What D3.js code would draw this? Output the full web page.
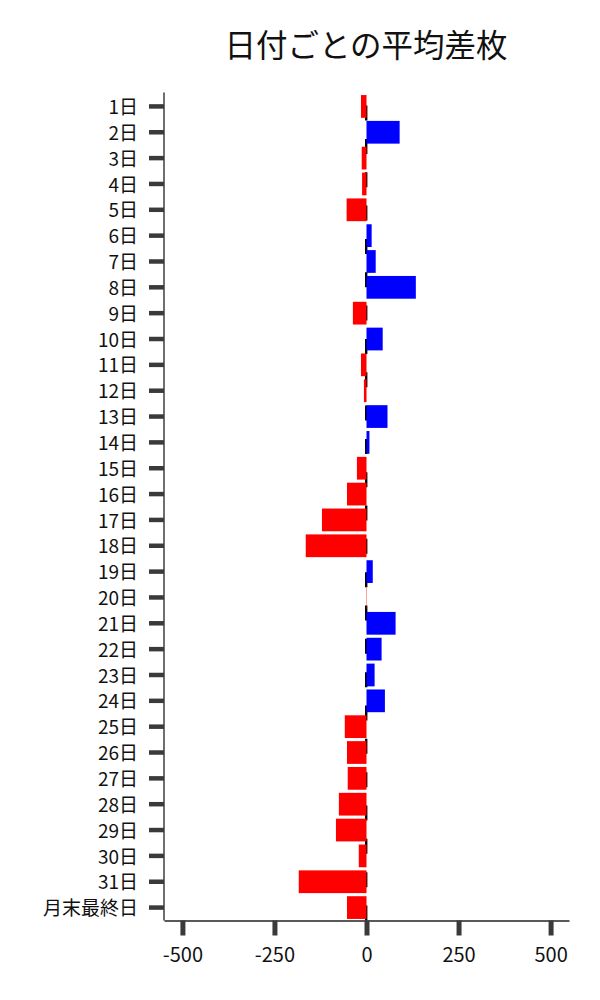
<!DOCTYPE html>
<html>
<head>
<meta charset="utf-8">
<script src="https://cdn.jsdelivr.net/npm/d3@7"></script>
<style>
  html, body { margin: 0; padding: 0; background: #fff; }
  svg { display: block; font-family: "Noto Sans CJK JP", "Noto Sans", sans-serif; }
</style>
</head>
<body>
<svg id="chart" width="600" height="1000"></svg>
<script>
const title = "日付ごとの平均差枚";
const categories = ["1日","2日","3日","4日","5日","6日","7日","8日","9日","10日",
  "11日","12日","13日","14日","15日","16日","17日","18日","19日","20日",
  "21日","22日","23日","24日","25日","26日","27日","28日","29日","30日",
  "31日","月末最終日"];
const values = [-15, 90, -13, -12, -54, 14, 25, 134, -37, 44,
  -15, -7, 57, 8, -26, -53, -121, -165, 17, -1,
  79, 41, 22, 50, -59, -53, -51, -75, -83, -21,
  -184, -53];
const xTicks = [-500, -250, 0, 250, 500];
const xDomain = [-550, 550];

(function () {
const svg = d3.select("#chart");
const mLeft = 164, mRight = 569, mTop = 93.5, mBottom = 920.5;

const x = d3.scaleLinear().domain(xDomain).range([mLeft, mRight]);
const y = d3.scaleBand().domain(categories).range([mTop, mBottom]).paddingInner(0.12).paddingOuter(0.06);

// zero dashed line (drawn from bottom to top)
svg.append("line")
  .attr("x1", x(0) - 0.3).attr("x2", x(0) - 0.3)
  .attr("y1", mBottom).attr("y2", mTop - 1)
  .attr("stroke", "#000").attr("stroke-width", 2.4)
  .attr("stroke-dasharray", "15,18.33");

// bars
svg.append("g").selectAll("rect").data(values).join("rect")
  .attr("x", d => x(Math.min(0, d)))
  .attr("width", d => Math.abs(x(d) - x(0)))
  .attr("y", (d, i) => y(categories[i]))
  .attr("height", y.bandwidth())
  .attr("fill", d => d < 0 ? "#ff0000" : "#0000ff");

// y axis
const yAxis = d3.axisLeft(y).tickSize(15).tickPadding(11).tickSizeOuter(0);
const gy = svg.append("g").attr("transform", `translate(${mLeft},0)`).call(yAxis);
gy.select(".domain").attr("stroke", "#222").attr("stroke-width", 1.3)
  .attr("d", `M0,${mTop - 1}V${mBottom}`);
gy.selectAll(".tick line").attr("stroke", "#3a3a3a").attr("stroke-width", 4.5);
gy.selectAll(".tick text").attr("font-size", 19).attr("fill", "#111")
  .attr("dy", "0.4em").style("font-family", '"Noto Sans CJK JP", sans-serif');

// x axis
const xAxis = d3.axisBottom(x).tickValues(xTicks).tickFormat(d => String(d)).tickSize(15).tickPadding(12).tickSizeOuter(0);
const gx = svg.append("g").attr("transform", `translate(0,${mBottom})`).call(xAxis);
gx.select(".domain").attr("stroke", "#222").attr("stroke-width", 1.3);
gx.selectAll(".tick line").attr("stroke", "#3a3a3a").attr("stroke-width", 5);
gx.selectAll(".tick text").attr("font-size", 20).attr("fill", "#111")
  .style("font-family", '"Noto Sans CJK JP", sans-serif');

// title
svg.append("text")
  .attr("x", 366).attr("y", 43)
  .attr("text-anchor", "middle").attr("dominant-baseline", "central")
  .attr("font-size", 31.5).attr("fill", "#111")
  .text(title);
})();
</script>
</body>
</html>
